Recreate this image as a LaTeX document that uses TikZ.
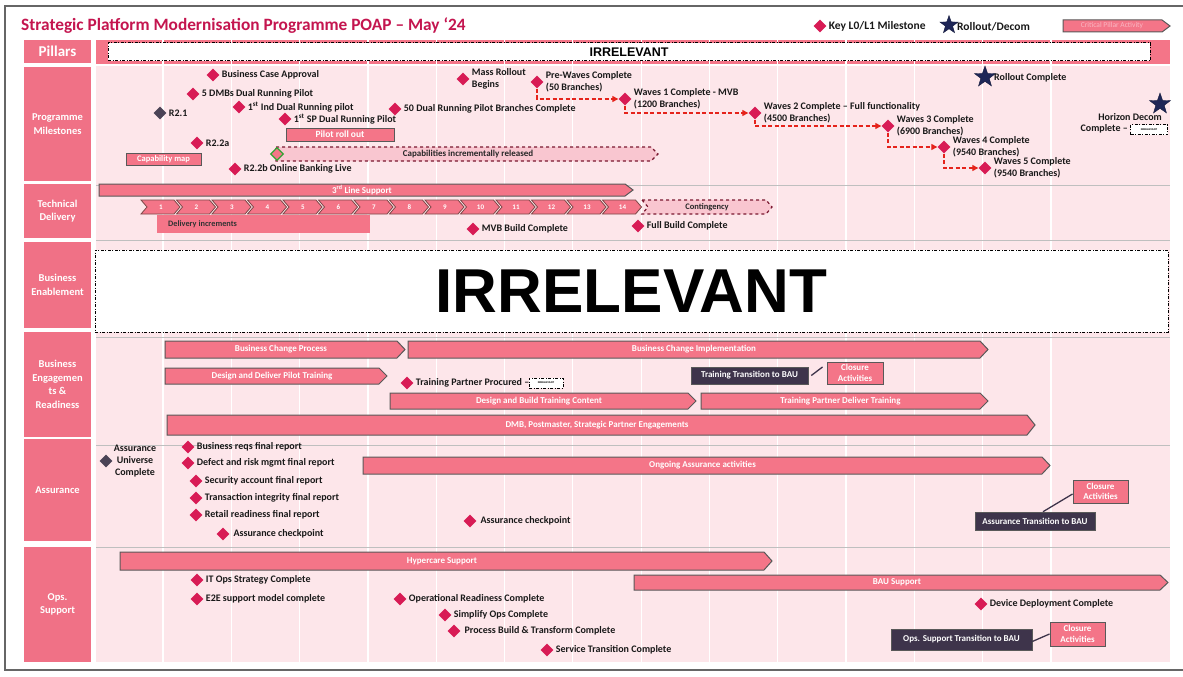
\documentclass[tikz,border=0pt]{standalone}
\usepackage{fontspec}
\setmainfont{Carlito}
\newfontfamily\arialfont{Liberation Sans}
\usetikzlibrary{shapes.geometric,arrows.meta}

\definecolor{crimson}{HTML}{D81B55}
\definecolor{titlered}{HTML}{C4154F}
\definecolor{barpink}{HTML}{F47588}
\definecolor{lightbg}{HTML}{FDE6EA}
\definecolor{barline}{HTML}{595959}
\definecolor{darkbox}{HTML}{3E344B}
\definecolor{navy}{HTML}{1E2657}
\definecolor{slate}{HTML}{4B4356}
\definecolor{waveRed}{HTML}{E5231B}
\definecolor{maroon}{HTML}{7A1830}
\definecolor{softpink}{HTML}{F9C6D0}
\definecolor{labelpink}{HTML}{F07186}
\definecolor{legendtext}{HTML}{F9B7C3}

\tikzset{
  ms/.style={diamond, fill=crimson, minimum width=13pt, minimum height=13pt, inner sep=0pt},
  msdark/.style={ms, fill=slate},
  mtext/.style={anchor=west, inner sep=1pt, text=black!90, font=\bfseries\fontsize{10}{12}\selectfont, align=left},
  rstar/.style={star, star points=5, star point ratio=2.5, fill=navy, draw=navy!70!black, minimum size=22pt, inner sep=0pt},
  pillar/.style={fill=labelpink, text=white, inner sep=0pt, minimum width=67pt, align=center, font=\bfseries\fontsize{10.5}{13.5}\selectfont},
  barshape/.style={fill=barpink, draw=barline, line width=1pt, line join=miter},
  bartext/.style={text=white, inner sep=0pt, font=\bfseries\fontsize{9}{10}\selectfont},
  irrbox/.style={draw=black, fill=white, line width=1pt, dash pattern=on 3pt off 1.5pt on 1pt off 1.5pt, inner sep=0pt},
  irrsmall/.style={irrbox, line width=0.8pt, minimum width=34pt, minimum height=10pt, font=\arialfont\bfseries\fontsize{2.6}{3}\selectfont},
  contshape/.style={draw=maroon, dashed, line width=1.2pt, fill=softpink},
  chev/.style={fill=barpink, draw=barline!80!red, line width=0.8pt},
  chevtext/.style={text=white, inner sep=0pt, font=\bfseries\fontsize{7}{8}\selectfont},
  pbox/.style={fill=barpink, draw=barline, line width=1pt, text=white, inner sep=0pt, align=center, font=\bfseries\fontsize{9}{10.5}\selectfont},
  dbox/.style={fill=darkbox, draw=barline, line width=0.6pt, text=white, inner sep=0pt, font=\bfseries\fontsize{9}{10}\selectfont},
  conn/.style={draw=darkbox, line width=1.3pt},
  wavearr/.style={draw=waveRed, line width=1.3pt, dash pattern=on 4pt off 2.5pt, -{Triangle[length=6pt,width=6pt]}},
}

% activity bar with a pointed right end: name, x1, x2, y1, y2, label
\newcommand{\actbar}[6]{%
  \draw[barshape] (#2,#4) -- ({#3-8},#4) -- (#3,{(#4+#5)/2}) -- ({#3-8},#5) -- (#2,#5) -- cycle;
  \node[bartext] (#1) at ({(#2+#3-8)/2},{(#4+#5)/2}) {#6};}

% milestone diamond with its caption to the right
\newcommand{\milestone}[4]{% name, x, y, caption
  \node[ms] (#1) at (#2,#3) {};
  \node[mtext] (#1t) at ([xshift=1pt]#1.east) {#4};}

\begin{document}
\begin{tikzpicture}[x=1pt,y=-1pt]
\useasboundingbox (0,0) rectangle (1183,677);
\fill[white] (0,0) rectangle (1183,677);

% outer frame
\draw[black!60, line width=1.8pt] (1183,6) -- (5,6) -- (5,670) -- (1183,670);

% title and legend
\node[anchor=west, inner sep=0pt, text=titlered, font=\bfseries\fontsize{17.3}{20}\selectfont] (title) at (21,26) {Strategic Platform Modernisation Programme POAP – May ‘24};
\node[ms] (lgm) at (820,26) {};
\node[mtext, font=\bfseries\fontsize{11.5}{13}\selectfont] (lgmt) at ([xshift=1pt]lgm.east) {Key L0/L1 Milestone};
\node[rstar, minimum size=19pt] (lgs) at (949,25) {};
\node[mtext, font=\bfseries\fontsize{11.5}{13}\selectfont] (lgst) at (956,27) {Rollout/Decom};
\actbar{lgbar}{1063}{1170}{20}{32}{}
\node[text=legendtext, inner sep=0pt, font=\fontsize{7.5}{8}\selectfont] (lgbart) at (1112,26) {Critical Pillar Activity};

% timeline grid
\fill[barpink] (96,40) rectangle (1170,64);
\fill[lightbg] (96,66) rectangle (1170,662);
\foreach \i in {0,...,13} \draw[white, line width=1.2pt] ({163+68.3*\i},40) -- ({163+68.3*\i},662);
\foreach \yy in {185,240,337,445,547} \draw[black!25, line width=0.7pt] (96,\yy) -- (1170,\yy);

% pillar labels
\node[pillar, minimum height=23pt, font=\bfseries\fontsize{15}{17}\selectfont] (pPil) at (57.5,51.5) {Pillars};
\node[pillar, minimum height=114pt] (pPM) at (57.5,124) {Programme\\Milestones};
\node[pillar, minimum height=54pt] (pTD) at (57.5,211) {Technical\\Delivery};
\node[pillar, minimum height=86pt] (pBE) at (57.5,285) {Business\\Enablement};
\node[pillar, minimum height=105pt] (pBER) at (57.5,384.5) {Business\\Engagemen\\ts \&\\Readiness};
\node[pillar, minimum height=102pt] (pAS) at (57.5,490) {Assurance};
\node[pillar, minimum height=115pt] (pOS) at (57.5,604.5) {Ops.\\Support};

% pillars row
\node[irrbox, minimum width=1042pt, minimum height=18pt, font=\arialfont\bfseries\fontsize{12.5}{14}\selectfont] (irr1) at (629,52) {IRRELEVANT};

% ---------------- programme milestones ----------------
\milestone{m1}{213}{75}{Business Case Approval}
\milestone{m2}{193}{94}{5 DMBs Dual Running Pilot}
\node[msdark] (m3) at (160,113) {};
\node[mtext] (m3t) at ([xshift=1pt]m3.east) {R2.1};
\milestone{m4}{239}{107}{1\textsuperscript{st} Ind Dual Running pilot}
\milestone{m5}{285}{119}{1\textsuperscript{st} SP Dual Running Pilot}
\milestone{m6}{395}{109}{50 Dual Running Pilot Branches Complete}
\milestone{m7}{197}{143}{R2.2a}
\milestone{m8}{235}{169}{R2.2b Online Banking Live}
\node[pbox, minimum width=75pt, minimum height=12pt, font=\bfseries\fontsize{8.5}{9}\selectfont] (capmap) at (163.5,159) {Capability map};
\node[pbox, minimum width=108pt, minimum height=13pt, font=\bfseries\fontsize{9.5}{10}\selectfont] (pilot) at (340,134.5) {Pilot roll out};
\draw[contshape] (276,147) -- (651,147) -- (658,154) -- (651,161) -- (276,161) -- cycle;
\node[text=black!85, inner sep=0pt, font=\bfseries\fontsize{9}{10}\selectfont] (capinc) at (468,154) {Capabilities incrementally released};
\node[diamond, fill=barpink, draw=green!55!black!80, line width=1.3pt, minimum width=13pt, minimum height=13pt, inner sep=0pt] (capgo) at (277,154) {};

\milestone{m9}{463}{79}{Mass Rollout\\Begins}
\milestone{w0}{537}{82}{Pre-Waves Complete\\(50 Branches)}
\milestone{w1}{625}{99}{Waves 1 Complete - MVB\\(1200 Branches)}
\milestone{w2}{755}{113}{Waves 2 Complete – Full functionality\\(4500 Branches)}
\milestone{w3}{888}{126}{Waves 3 Complete\\(6900 Branches)}
\milestone{w4}{944}{147}{Waves 4 Complete\\(9540 Branches)}
\milestone{w5}{985}{168}{Waves 5 Complete\\(9540 Branches)}
\draw[wavearr] (w0.south) |- (w1.west);
\draw[wavearr] (w1.south) |- (w2.west);
\draw[wavearr] (w2.south) |- (w3.west);
\draw[wavearr] (w3.south) |- (w4.west);
\draw[wavearr] (w4.south) |- (w5.west);

\node[rstar] (rc) at (985,77) {};
\node[mtext] (rct) at (993,78) {Rollout Complete};
\node[mtext, anchor=east] (hdt1) at (1163,117) {Horizon Decom};
\node[mtext, anchor=east] (hdt2) at (1129,129) {Complete –};
\node[irrsmall, minimum width=37pt] (irr3) at (1149,129.5) {IRRELEVANT};
\node[rstar] (hd) at (1160,104) {};

% ---------------- technical delivery ----------------
\actbar{tls}{99}{633}{184}{196}{3\textsuperscript{rd} Line Support}
\foreach \i in {1,...,14}{
  \pgfmathsetmacro\cx{141+35.5*(\i-1)}
  \draw[chev] (\cx,200) -- ++(33,0) -- ++(6,7) -- ++(-6,7) -- ++(-33,0) -- ++(6,-7) -- cycle;
  \node[chevtext] (c\i) at (\cx+20,207) {\i};
}
\draw[contshape] (642,200) -- (766,200) -- (772,207) -- (766,214) -- (642,214) -- (648,207) -- cycle;
\node[text=black!85, inner sep=0pt, font=\bfseries\fontsize{8.5}{9}\selectfont] (cont) at (707,207) {Contingency};
\fill[barpink] (157,215) rectangle (370,233);
\node[anchor=west, text=black!80, inner sep=0pt, font=\bfseries\fontsize{8.3}{9}\selectfont] (delinc) at (168,224) {Delivery increments};
\milestone{t1}{473}{229}{MVB Build Complete}
\milestone{t2}{638}{226}{Full Build Complete}

% ---------------- business enablement ----------------
\node[irrbox, minimum width=1073pt, minimum height=82pt, font=\arialfont\bfseries\fontsize{62}{70}\selectfont] (irr2) at (631.5,291) {IRRELEVANT};

% ---------------- business engagement & readiness ----------------
\actbar{bcp}{165}{405}{341}{358}{Business Change Process}
\actbar{bci}{408}{988}{341}{358}{Business Change Implementation}
\actbar{ddpt}{165}{387}{368}{384}{Design and Deliver Pilot Training}
\milestone{tpp}{407}{383}{Training Partner Procured –}
\node[irrsmall] (irr4) at (546,383) {IRRELEVANT};
\actbar{dbtc}{390}{696}{393}{409}{Design and Build Training Content}
\actbar{tpdt}{701}{988}{393}{409}{Training Partner Deliver Training}
\node[dbox, minimum width=117pt, minimum height=17pt] (ttb) at (749.5,375.5) {Training Transition to BAU};
\node[pbox, minimum width=56pt, minimum height=22pt] (cl1) at (855,373) {Closure\\Activities};
\draw[conn] ([xshift=3pt]ttb.east) -- ([xshift=-4pt,yshift=6pt]cl1.west);
\actbar{dmb}{167}{1035}{415}{435}{DMB, Postmaster, Strategic Partner Engagements}

% ---------------- assurance ----------------
\node[msdark] (auc) at (106,461) {};
\node[mtext, align=center, anchor=center] (auct) at (135,461) {Assurance\\Universe\\Complete};
\milestone{a1}{188}{447}{Business reqs final report}
\milestone{a2}{188}{463}{Defect and risk mgmt final report}
\milestone{a3}{196}{481}{Security account final report}
\milestone{a4}{196}{498}{Transaction integrity final report}
\milestone{a5}{196}{515}{Retail readiness final report}
\milestone{a6}{223}{534}{\,Assurance checkpoint}
\milestone{a7}{470}{521}{\,Assurance checkpoint}
\actbar{oaa}{363}{1050}{457}{474}{Ongoing Assurance activities}
\node[pbox, minimum width=55pt, minimum height=23pt] (cl2) at (1100.5,491.5) {Closure\\Activities};
\node[dbox, minimum width=120pt, minimum height=18pt] (atb) at (1035,521) {Assurance Transition to BAU};
\draw[conn] ([xshift=8pt]atb.north) -- ([yshift=-2.5pt]cl2.west);

% ---------------- ops support ----------------
\actbar{hs}{120}{772}{552}{570}{Hypercare Support}
\actbar{bau}{634}{1168}{575}{590}{BAU Support}
\milestone{o1}{197}{580}{IT Ops Strategy Complete}
\milestone{o2}{197}{599}{E2E support model complete}
\milestone{o3}{400}{599}{Operational Readiness Complete}
\milestone{o4}{445}{615}{Simplify Ops Complete}
\milestone{o5}{454}{631}{\,Process Build \& Transform Complete}
\milestone{o6}{547}{650}{Service Transition Complete}
\milestone{o7}{981}{604}{Device Deployment Complete}
\node[dbox, minimum width=141pt, minimum height=21pt] (otb) at (961.5,639.5) {Ops. Support Transition to BAU};
\node[pbox, minimum width=55pt, minimum height=24pt] (cl3) at (1077.5,634) {Closure\\Activities};
\draw[conn] ([yshift=-2pt]otb.east) -- (cl3.west);
\end{tikzpicture}
\end{document}
